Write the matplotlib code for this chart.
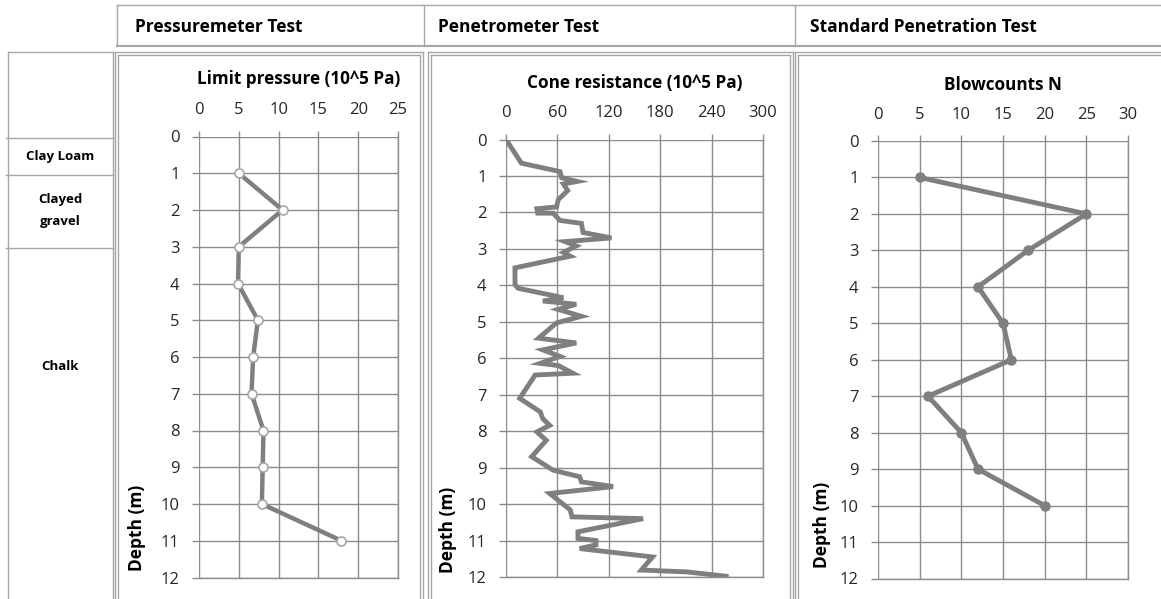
import matplotlib
matplotlib.use('Agg')
import matplotlib.pyplot as plt
from matplotlib.lines import Line2D

plt.rcParams['font.family'] = ['Open Sans', 'DejaVu Sans']

# ---- data ----
pm_depth = [1, 2, 3, 4, 5, 6, 7, 8, 9, 10, 11]
pm_limit = [5.0, 10.5, 5.0, 4.9, 7.4, 6.8, 6.6, 8.1, 8.0, 7.9, 17.9]

cpt_depth = [0, 0.65, 0.88, 1.05, 1.15, 1.22, 1.4, 1.65, 1.85, 1.9,
             2.02, 2.02, 2.22, 2.3, 2.55, 2.7, 2.8, 2.92, 3.1, 3.2,
             3.52, 3.98, 4.08, 4.34, 4.43, 4.52, 4.66, 4.85, 5.03, 5.45,
             5.58, 5.77, 5.95, 6.14, 6.2, 6.41, 6.46, 7.1, 7.47, 7.66,
             7.84, 8.02, 8.25, 8.7, 9.07, 9.25, 9.39, 9.52, 9.71, 10.16,
             10.35, 10.4, 10.76, 10.94, 11.0, 11.12, 11.22, 11.45, 11.81, 11.86,
             11.98]
cpt_qc = [0, 18, 63, 65, 83, 67, 72, 61, 59, 36,
          37, 55, 63, 88, 90, 123, 69, 82, 67, 75,
          10.5, 10.5, 14, 67, 43, 82, 61, 88, 59, 38,
          82, 43, 63, 40, 61, 78, 34, 16, 40, 43,
          51, 36, 47, 30, 55, 86, 88, 125, 51, 75,
          77, 160, 84, 84, 105, 105, 86, 171, 158, 211,
          257]

spt_depth = [1, 2, 3, 4, 5, 6, 7, 8, 9, 10]
spt_n = [5, 25, 18, 12, 15, 16, 6, 10, 12, 20]

layers = ['Clay Loam', 'Clayed\ngravel', 'Chalk']
layer_bounds = [138, 175, 248]   # px rows of the layer lines in the log column

headers = ['Pressuremeter Test', 'Penetrometer Test', 'Standard Penetration Test']

W, H = 1161, 599
fig = plt.figure(figsize=(W / 100, H / 100), dpi=100)

LINE = '#7f7f7f'
GRID = '#8c8c8c'
BORDER = '#a6a6a6'


def fx(x):
    return x / W


def fy(y):
    return 1 - y / H


def hline(x0, x1, y, lw=1.0, c=BORDER):
    fig.add_artist(Line2D([fx(x0), fx(x1)], [fy(y), fy(y)], color=c, lw=lw))


def vline(x, y0, y1, lw=1.0, c=BORDER):
    fig.add_artist(Line2D([fx(x), fx(x)], [fy(y0), fy(y1)], color=c, lw=lw))


def dbox(x0, y0, x1, y1, gap=3):
    # excel style double border
    for d in (0, gap):
        hline(x0 + d, x1 - d, y0 + d)
        vline(x0 + d, y0 + d, y1)
        vline(x1 - d, y0 + d, y1)


# header row
hline(117, W, 5)
hline(117, W, 46, lw=1.5)
for x in (117, 424, 795):
    vline(x, 5, 46)
for x, t in zip((135, 438, 810), headers):
    fig.text(fx(x), fy(27), t, fontsize=12.5, fontweight='bold', va='center', ha='left')

# soil log column
vline(8, 52, H + 5)
vline(113, 52, H + 5)
hline(8, 113, 52)
for y in layer_bounds:
    hline(6, 113, y)
lab_y = [156, 211, 367]
for t, y in zip(layers, lab_y):
    fig.text(fx(60), fy(y), t, fontsize=9.5, fontweight='bold', ha='center', va='center',
             linespacing=1.9)

# panel frames
dbox(115, 52, 423, H + 10)
dbox(428, 52, 793, H + 10)
dbox(795, 52, W + 10, H + 10)


def profile_axes(x0, x1, y0, y12, xmax, step, title, title_y, lab_y, depth_x):
    ax = fig.add_axes([fx(x0), fy(y12), (x1 - x0) / W, (y12 - y0) / H])
    ax.set_xlim(0, xmax)
    ax.set_ylim(12, 0)
    ax.set_xticks(range(0, xmax + 1, step))
    ax.set_yticks(range(0, 13))
    ax.xaxis.tick_top()
    ax.grid(True, color=GRID, lw=1.0)
    ax.set_axisbelow(True)
    for s in ax.spines.values():
        s.set_color(GRID)
        s.set_linewidth(1.0)
    ax.spines['left'].set_visible(False)
    ax.spines['top'].set_visible(False)
    ax.tick_params(axis='both', colors=GRID, length=5, width=1.0, labelsize=12,
                   labelcolor='#262626')
    ax.tick_params(axis='y', pad=9)
    ax.tick_params(axis='x', length=4, pad=9)
    fig.text(fx((x0 + x1) / 2), fy(title_y), title, fontsize=12.3, fontweight='bold',
             ha='center', va='center')
    fig.text(fx(depth_x), fy(lab_y), 'Depth (m)', fontsize=12.5, fontweight='bold',
             rotation=90, ha='center', va='center')
    return ax


ax1 = profile_axes(199, 398, 136.5, 577.5, 25, 5, 'Limit pressure (10^5 Pa)', 79, 528, 137)
ax1.plot(pm_limit, pm_depth, color=LINE, lw=3.2, marker='o', markersize=6.5,
         markerfacecolor='white', markeredgecolor='#a6a6a6', markeredgewidth=1.2)

ax2 = profile_axes(506, 763, 139.5, 577, 300, 60, 'Cone resistance (10^5 Pa)', 83, 530, 448)
ax2.plot(cpt_qc, cpt_depth, color=LINE, lw=3.5, solid_joinstyle='miter')

ax3 = profile_axes(878, 1128, 141, 578.5, 30, 5, 'Blowcounts N', 85, 525, 822)
ax3.plot(spt_n, spt_depth, color=LINE, lw=3.5, marker='o', markersize=6.5,
         markerfacecolor=LINE, markeredgecolor=LINE)

fig.savefig('out.png', dpi=100)
